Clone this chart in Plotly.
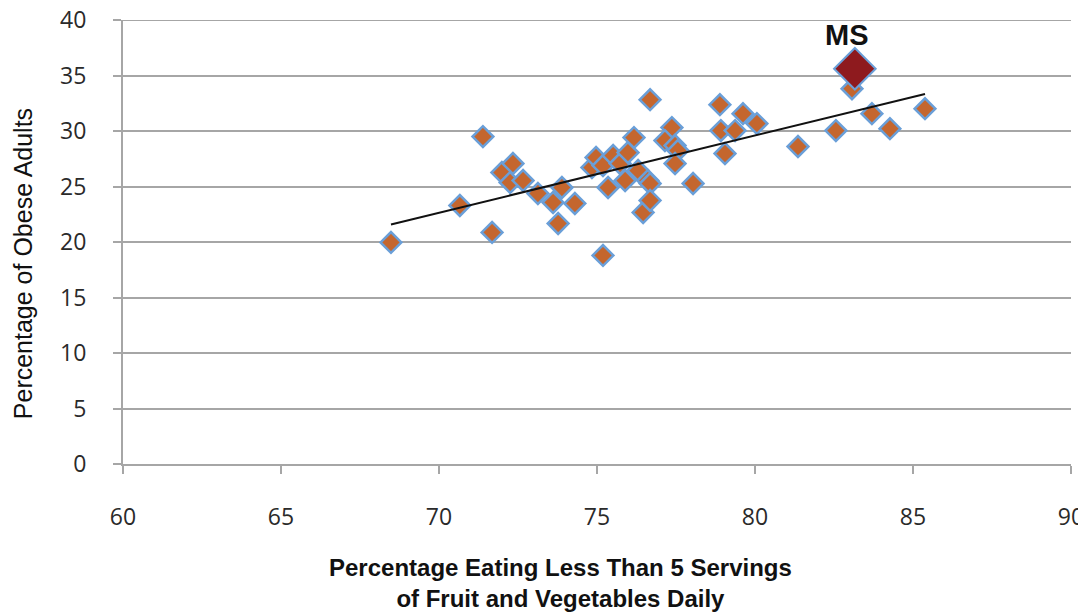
import numpy as np
import plotly.graph_objects as go

# Percentage eating < 5 servings fruit/veg daily (x) vs percentage obese adults (y)
states_x = [68.48, 70.66, 71.39, 71.68, 71.99, 72.34, 72.25, 72.66, 73.13, 73.61,
            73.89, 73.77, 74.30, 74.84, 74.97, 75.19, 75.19, 75.35, 75.51, 75.73,
            75.89, 75.98, 76.17, 76.30, 76.46, 76.61, 76.68, 76.68, 76.68, 77.37,
            77.15, 77.47, 77.56, 77.47, 78.04, 78.89, 78.92, 79.05, 79.37, 79.62,
            80.06, 81.36, 82.56, 83.07, 83.70, 84.27, 85.38]
states_y = [19.96, 23.29, 29.50, 20.86, 26.26, 27.07, 25.36, 25.54, 24.37, 23.56,
            24.91, 21.67, 23.47, 26.71, 27.61, 26.89, 18.79, 24.91, 27.79, 27.07,
            25.54, 28.06, 29.41, 26.44, 22.66, 25.54, 32.82, 25.27, 23.74, 30.31,
            29.14, 28.69, 28.24, 27.07, 25.27, 32.37, 30.04, 27.97, 30.04, 31.56,
            30.67, 28.60, 30.04, 33.81, 31.56, 30.21, 32.01]
ms_x = [83.16]
ms_y = [35.61]
ms_label = "MS"

x_ticks = [60, 65, 70, 75, 80, 85, 90]
y_ticks = [0, 5, 10, 15, 20, 25, 30, 35, 40]

all_x = np.array(states_x + ms_x)
all_y = np.array(states_y + ms_y)
slope, intercept = np.polyfit(all_x, all_y, 1)
tx = np.array([all_x.min(), all_x.max()])
ty = slope * tx + intercept

fig = go.Figure()
fig.add_trace(go.Scatter(
    x=states_x, y=states_y, mode="markers",
    marker=dict(symbol="diamond", size=16, color="#C4662E",
                line=dict(color="#6A9FD8", width=2.5)),
    showlegend=False, hoverinfo="x+y"))
fig.add_trace(go.Scatter(
    x=tx, y=ty, mode="lines", line=dict(color="#111111", width=2),
    showlegend=False, hoverinfo="skip"))
fig.add_trace(go.Scatter(
    x=ms_x, y=ms_y, mode="markers",
    marker=dict(symbol="diamond", size=32, color="#8E1A1E",
                line=dict(color="#6A9FD8", width=2)),
    showlegend=False, hoverinfo="x+y"))

fig.add_annotation(x=ms_x[0], y=ms_y[0], text="<b>%s</b>" % ms_label,
                   showarrow=False, xshift=-8, yshift=34,
                   font=dict(family="Liberation Sans", size=29, color="#111111"))
# x-axis title (two lines, centred left of plot centre as in the reference)
fig.add_annotation(xref="paper", yref="paper", x=0.461, y=0, yshift=-88,
                   xanchor="center", yanchor="top", showarrow=False,
                   text="<b>Percentage Eating Less Than 5 Servings<br>of Fruit and Vegetables Daily</b>",
                   font=dict(family="Liberation Sans", size=24, color="#111111"))
# y-axis title
fig.add_annotation(xref="paper", yref="paper", x=0, xshift=-100, y=0.45,
                   xanchor="center", yanchor="middle", showarrow=False,
                   textangle=-90, text="Percentage of Obese Adults",
                   font=dict(family="Liberation Sans", size=25, color="#111111"))

# horizontal gridline at the top of the range (drawn explicitly so it is not dropped)
fig.add_shape(type="line", xref="paper", yref="y", x0=0, x1=1, y0=y_ticks[-1], y1=y_ticks[-1],
              line=dict(color="#A6A6A6", width=2), layer="below")

tickfont = dict(family="Open Sans", size=23, color="#2a2a2a")
fig.update_layout(
    width=1078, height=604,
    margin=dict(l=115, r=15, t=12, b=148),
    paper_bgcolor="white", plot_bgcolor="white",
    xaxis=dict(range=[60, 90], tickvals=x_ticks, showgrid=False, automargin=False,
               showline=True, linecolor="#A6A6A6", linewidth=2,
               ticks="outside", ticklen=8, tickcolor="#A6A6A6", tickwidth=2,
               tickfont=tickfont, ticklabelstandoff=23, zeroline=False,
               ticklabeloverflow="allow"),
    yaxis=dict(range=[0, 40], tickvals=y_ticks, showgrid=True, automargin=False,
               gridcolor="#A6A6A6", gridwidth=2,
               showline=True, linecolor="#A6A6A6", linewidth=2,
               ticks="outside", ticklen=8, tickcolor="#A6A6A6", tickwidth=2,
               tickfont=tickfont, ticklabelstandoff=22, zeroline=False,
               ticklabeloverflow="allow"),
)
fig.write_html("out.html")
